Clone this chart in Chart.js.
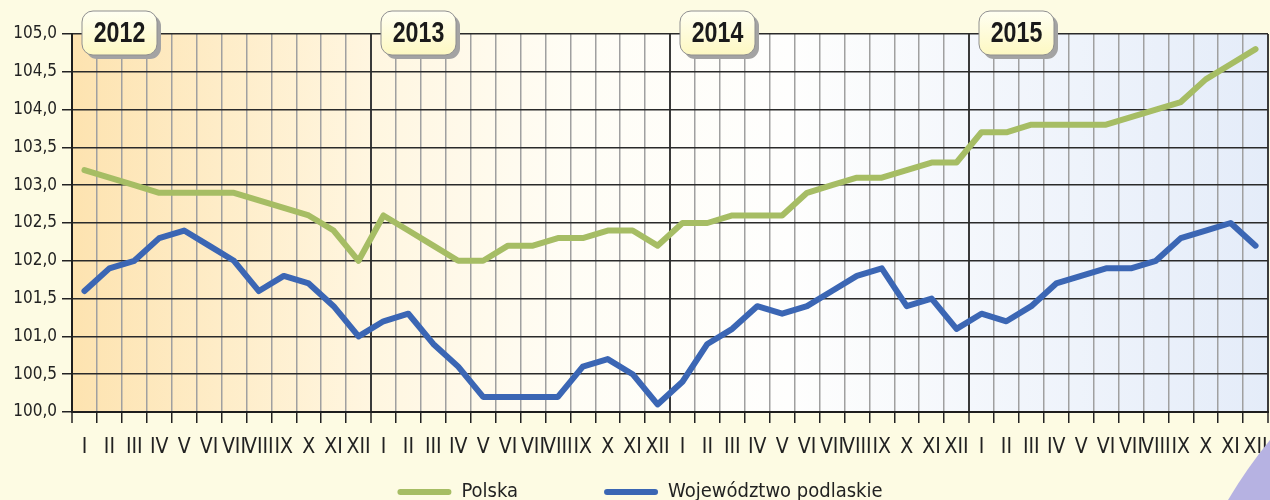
<!DOCTYPE html>
<html>
<head>
<meta charset="utf-8">
<script src="https://cdn.jsdelivr.net/npm/chart.js@4.4.1/dist/chart.umd.min.js"></script>
<style>
  html, body { margin: 0; padding: 0; background: #fdfbe3; overflow: hidden; }
  #wrap { width: 1270px; height: 500px; position: relative; }
</style>
</head>
<body>
<div id="wrap"><canvas id="cpiChart"></canvas></div>
<script>
// lata i miesiace (os X)
const years = ['2012', '2013', '2014', '2015'];
const months = ['I', 'II', 'III', 'IV', 'V', 'VI', 'VII', 'VIII', 'IX', 'X', 'XI', 'XII'];

// wskazniki cen - Polska
const polska = [
    103.2, 103.1, 103.0, 102.9, 102.9, 102.9, 102.9, 102.8, 102.7, 102.6, 102.4, 102.0,
    102.6, 102.4, 102.2, 102.0, 102.0, 102.2, 102.2, 102.3, 102.3, 102.4, 102.4, 102.2,
    102.5, 102.5, 102.6, 102.6, 102.6, 102.9, 103.0, 103.1, 103.1, 103.2, 103.3, 103.3,
    103.7, 103.7, 103.8, 103.8, 103.8, 103.8, 103.9, 104.0, 104.1, 104.4, 104.6, 104.8
];

// wskazniki cen - wojewodztwo podlaskie
const podlaskie = [
    101.6, 101.9, 102.0, 102.3, 102.4, 102.2, 102.0, 101.6, 101.8, 101.7, 101.4, 101.0,
    101.2, 101.3, 100.9, 100.6, 100.2, 100.2, 100.2, 100.2, 100.6, 100.7, 100.5, 100.1,
    100.4, 100.9, 101.1, 101.4, 101.3, 101.4, 101.6, 101.8, 101.9, 101.4, 101.5, 101.1,
    101.3, 101.2, 101.4, 101.7, 101.8, 101.9, 101.9, 102.0, 102.3, 102.4, 102.5, 102.2
];

const labels = years.flatMap(() => months);
const narrowFont = "'DejaVu Sans Condensed', 'Liberation Sans Narrow', sans-serif";

// tlo wykresu + ramki z latami + trojkat w rogu
const decorPlugin = {
    id: 'decor',
    afterLayout(chart) {
        // legenda nizej, z szerokim odstepem miedzy pozycjami
        const lg = chart.legend;
        if (lg) {
            lg.top = 396;
            lg.height = lg.bottom - lg.top;
            lg.left += 6;
            lg.right += 6;
        }
    },
    beforeDraw(chart) {
        const { ctx, chartArea: a } = chart;
        ctx.save();
        ctx.fillStyle = '#fdfbe3';
        ctx.fillRect(0, 0, chart.width, chart.height);
        const g = ctx.createLinearGradient(a.left, 0, a.right, 0);
        g.addColorStop(0, '#fde3b0');
        g.addColorStop(0.25, '#fff6e0');
        g.addColorStop(0.42, '#fffdf5');
        g.addColorStop(0.6, '#fefefd');
        g.addColorStop(0.75, '#f4f7fc');
        g.addColorStop(1, '#e4ecf9');
        ctx.fillStyle = g;
        ctx.fillRect(a.left, a.top, a.right - a.left, a.bottom - a.top);
        ctx.restore();
    },
    afterDraw(chart) {
        const { ctx } = chart;
        const x = chart.scales.x;
        const step = x.getPixelForValue(1) - x.getPixelForValue(0);
        ctx.save();
        years.forEach((yr, k) => {
            const bx = x.getPixelForValue(k * 12) - step / 2 + 10;
            const by = 11, bw = 75, bh = 44, r = 11;
            ctx.beginPath();
            ctx.roundRect(bx + 4, by + 4, bw, bh, r);
            ctx.fillStyle = '#a3a3a3';
            ctx.fill();
            const fg = ctx.createLinearGradient(0, by, 0, by + bh);
            fg.addColorStop(0, '#fffff2');
            fg.addColorStop(1, '#fdf8c2');
            ctx.beginPath();
            ctx.roundRect(bx, by, bw, bh, r);
            ctx.fillStyle = fg;
            ctx.fill();
            ctx.lineWidth = 1;
            ctx.strokeStyle = '#8f8f8f';
            ctx.stroke();
            // waski pogrubiony napis roku
            ctx.save();
            ctx.translate(bx + bw / 2, by + bh / 2 + 1);
            ctx.scale(0.8, 1);
            ctx.fillStyle = '#1a1a1a';
            ctx.font = "bold 29px 'Liberation Sans', Arial, sans-serif";
            ctx.textAlign = 'center';
            ctx.textBaseline = 'middle';
            ctx.fillText(yr, 0, 0);
            ctx.restore();
        });
        // fioletowy rog
        ctx.beginPath();
        ctx.moveTo(chart.width, 440);
        ctx.quadraticCurveTo(1247, 468, 1228, 500);
        ctx.lineTo(chart.width, 500);
        ctx.closePath();
        ctx.fillStyle = '#b6b2e2';
        ctx.fill();
        ctx.restore();
    }
};

const ctx = document.getElementById('cpiChart').getContext('2d');
new Chart(ctx, {
    type: 'line',
    data: {
        labels: labels,
        datasets: [{
            label: 'Polska',
            data: polska,
            borderColor: '#a6bd64',
            backgroundColor: '#a6bd64',
            borderWidth: 6,
            pointRadius: 0,
            borderJoinStyle: 'round',
            borderCapStyle: 'round'
        }, {
            label: 'Województwo podlaskie',
            data: podlaskie,
            borderColor: '#3b66b4',
            backgroundColor: '#3b66b4',
            borderWidth: 6,
            pointRadius: 0,
            borderJoinStyle: 'round',
            borderCapStyle: 'round'
        }]
    },
    options: {
        responsive: true,
        maintainAspectRatio: false,
        animation: false,
        layout: { padding: { top: 34, right: 2, left: 0, bottom: 0 } },
        plugins: {
            tooltip: { enabled: false },
            legend: {
                position: 'bottom',
                maxHeight: 42,
                labels: {
                    boxWidth: 54,
                    boxHeight: 6,
                    useBorderRadius: true,
                    borderRadius: 3,
                    padding: 86,
                    color: '#222',
                    font: { family: narrowFont, size: 20 },
                    generateLabels: (chart) =>
                        Chart.defaults.plugins.legend.labels.generateLabels(chart).map(l => ({ ...l, lineWidth: 0 }))
                }
            }
        },
        scales: {
            x: {
                offset: true,
                afterFit: (s) => {
                    s.height = 46;
                    s.paddingLeft = 0;
                    s.paddingRight = 0;
                },
                grid: {
                    offset: true,
                    color: (c) => (c.index === undefined || c.index % 12 === 0) ? '#3a3a3a' : '#a0a0a0',
                    lineWidth: (c) => (c.index === undefined || c.index % 12 === 0) ? 2 : 1.5,
                    tickColor: '#222',
                    tickWidth: 1.5,
                    tickLength: 11
                },
                border: { color: '#1e1e1e', width: 2 },
                ticks: {
                    autoSkip: false,
                    maxRotation: 0,
                    minRotation: 0,
                    padding: 12,
                    color: '#222',
                    font: { family: narrowFont, size: 21 }
                }
            },
            y: {
                min: 100,
                max: 105,
                afterFit: (s) => { s.width = 72; },
                grid: {
                    color: '#2a2a2a',
                    lineWidth: 1.5,
                    tickColor: '#222',
                    tickLength: 10
                },
                border: { color: '#1e1e1e', width: 2 },
                ticks: {
                    stepSize: 0.5,
                    padding: 5,
                    color: '#222',
                    font: { family: narrowFont, size: 17 },
                    callback: (v) => Number(v).toFixed(1).replace('.', ',')
                }
            }
        }
    },
    plugins: [decorPlugin]
});
</script>
</body>
</html>
